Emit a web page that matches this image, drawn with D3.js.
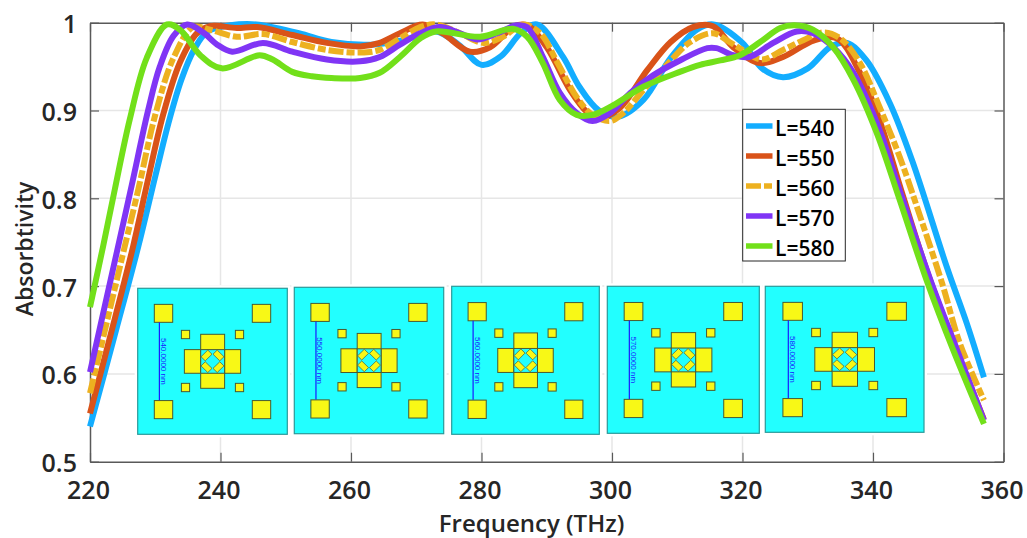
<!DOCTYPE html>
<html>
<head>
<meta charset="utf-8">
<script src="https://cdn.jsdelivr.net/npm/d3@7"></script>
<style>
  html, body { margin: 0; padding: 0; background: #fff; overflow: hidden; }
  text { font-family: "Open Sans", sans-serif; font-weight: 600; fill: #262626; }
  .legendText { fill: #000; }
  .scaleText { font-family: "Liberation Sans", sans-serif; font-weight: 400; fill: #1a1aff; }
</style>
</head>
<body>
<script>
//curve data: frequency (THz) and absorptivity for each cell length
var f540 = [220,224,227.4,230,232,234,236,238,241.5,245.5,252,257,263,268,273,276.5,280,283,286,288.5,292.5,295,298,301,304.8,309,313,315.5,320,323,326.2,330,333.4,336,339,342.6,346,351.3,354.4,357];
var a540 = [.54,.65,.745,.825,.885,.935,.97,.99,.997,.998,.988,.978,.975,.98,.99,.975,.952,.962,.988,.998,.961,.927,.90,.893,.912,.96,.992,.998,.977,.948,.938,.948,.972,.977,.957,.908,.843,.722,.657,.596];
var f550 = [220,223,226.6,228.7,231.2,233.8,236.4,238.4,242.5,245.6,251,256.3,261.4,264.4,267.5,271,274,278.2,281.3,285,287,290,293.6,296.2,298,301.2,305.4,309,312.4,315.5,318.6,322.7,326.2,331,334.5,338,341,344.5,348.5,352.8,357];
var a550 = [.555,.64,.745,.815,.895,.955,.988,.996,.994,.995,.986,.977,.973,.977,.988,.998,.988,.967,.972,.996,.997,.972,.923,.898,.891,.903,.946,.978,.995,.996,.972,.954,.961,.98,.982,.943,.889,.805,.712,.627,.548];
var f560 = [220,225,227.4,230,232.8,235.8,238.4,242.5,246.5,251,256.3,261.4,264.4,267.5,270.6,273,276.7,280.3,283.3,286.4,289,291.6,294.6,297,299.7,301.7,304.8,308.4,312,315.5,318,320,323,326.2,329.3,332.4,335,338,341,344.1,347.2,350.6,353.3,357];
var a560 = [.578,.735,.81,.895,.96,.995,.992,.984,.987,.978,.969,.966,.969,.982,.995,.998,.988,.977,.984,.998,.988,.955,.915,.895,.888,.897,.923,.952,.978,.988,.978,.969,.958,.969,.98,.989,.982,.954,.904,.847,.78,.703,.635,.57];
var f570 = [220,224,226.4,228.9,230.7,232.8,234.9,237.3,239.5,241.8,246.5,251,256.3,261.4,264.4,267.5,270.6,273.6,276.7,279.3,282.4,285.4,287,289.4,292,294.6,297,299.7,302.8,306.3,310.4,314.6,316,318.6,321,324.7,328.3,330.8,333.9,337,340.6,344.1,348.8,352.9,357];
var a570 = [.602,.735,.815,.90,.95,.985,.998,.989,.975,.967,.977,.967,.958,.956,.961,.975,.988,.995,.988,.981,.988,.997,.995,.961,.92,.897,.888,.897,.92,.94,.957,.971,.971,.963,.961,.977,.99,.988,.972,.943,.886,.809,.707,.627,.547];
var f580 = [220,222,223.8,226.1,228.7,231.8,233.8,236.9,240.2,246,248,251,254,257,261.4,264.4,267.5,270.6,273,279.8,284.8,287,289.4,292,294.6,297,300.2,304.8,310.4,313.5,316.6,319.6,322.7,325.8,328,330.8,333.9,337,340.6,344.1,348.2,352.3,357];
var a580 = [.676,.745,.81,.89,.96,.998,.992,.963,.948,.963,.958,.944,.939,.937,.937,.943,.961,.982,.99,.984,.993,.984,.954,.912,.895,.895,.906,.927,.944,.952,.957,.963,.978,.994,.997,.992,.972,.935,.874,.798,.707,.627,.543];

//legend names and the scale text printed in each inset
var lengths = ["L=540","L=550","L=560","L=570","L=580"];
var insetLabels = ["540.0000 nm","550.0000 nm","560.0000 nm","570.0000 nm","580.0000 nm"];
var xTicks = [220,240,260,280,300,320,340,360];
var yTicks = [0.5,0.6,0.7,0.8,0.9,1];

var freqs = [f540,f550,f560,f570,f580];
var absorb = [a540,a550,a560,a570,a580];
var colors = ["#13adff","#d95319","#edb120","#8035f5","#72e01a"];

var width = 1027, height = 538;

//page frame
var svg = d3.select("body")
    .append("svg")
    .attr("width", width)
    .attr("height", height)
    .style("display", "block");

//scales for the plot box
var x = d3.scaleLinear().domain([220,360]).range([90,1003.5]);
var y = d3.scaleLinear().domain([0.5,1]).range([461.7,22.7]);

//grid lines
svg.append("g").selectAll("line").data(xTicks.slice(1,-1)).enter().append("line")
    .attr("x1", x).attr("x2", x).attr("y1", y(0.5)).attr("y2", y(1))
    .attr("stroke", "#e6e6e6").attr("stroke-width", 1.5);
svg.append("g").selectAll("line").data(yTicks.slice(1,-1)).enter().append("line")
    .attr("x1", x(220)).attr("x2", x(360)).attr("y1", y).attr("y2", y)
    .attr("stroke", "#e6e6e6").attr("stroke-width", 1.5);

//the four sides with inward ticks
function styleAxis(g){
    g.selectAll("path").attr("stroke", "#595959").attr("stroke-width", 1.5);
    g.selectAll("line").attr("stroke", "#595959").attr("stroke-width", 1.2);
}
var bottom = svg.append("g").attr("transform", "translate(0," + y(0.5) + ")")
    .call(d3.axisBottom(x).tickValues(xTicks).tickSize(-9).tickSizeOuter(0).tickFormat(d3.format("d")));
var top_ = svg.append("g").attr("transform", "translate(0," + y(1) + ")")
    .call(d3.axisTop(x).tickValues(xTicks).tickSize(-9).tickSizeOuter(0).tickFormat(""));
var left = svg.append("g").attr("transform", "translate(" + x(220) + ",0)")
    .call(d3.axisLeft(y).tickValues(yTicks).tickSize(-9).tickSizeOuter(0).tickFormat(d3.format("~g")));
var right = svg.append("g").attr("transform", "translate(" + x(360) + ",0)")
    .call(d3.axisRight(y).tickValues(yTicks).tickSize(-9).tickSizeOuter(0).tickFormat(""));
[bottom,top_,left,right].forEach(styleAxis);

bottom.selectAll("text").attr("y", 0).attr("dy", 0)
    .attr("transform", "translate(-2,37)")
    .style("font-size", "25px").attr("text-anchor", "middle");
left.selectAll("text").attr("x", -13).attr("dy", "10px")
    .style("font-size", "25px").attr("text-anchor", "end");

//axis titles
svg.append("text")
    .attr("x", 531.5).attr("y", 532)
    .attr("text-anchor", "middle")
    .style("font-size", "24px")
    .text("Frequency (THz)");
svg.append("text")
    .attr("transform", "translate(33,249) rotate(-90)")
    .attr("text-anchor", "middle")
    .style("font-size", "23px")
    .text("Absorbtivity");

//pasted geometry pictures, each box is [left, right, top, bottom] in page pixels
var insetBoxes = [
    [137.7,287.3,288.3,434.3],
    [294.3,443.7,287.3,433.7],
    [451.7,599.3,286.3,434.3],
    [607.3,759.3,286.3,433.3],
    [765.3,924,286.3,432.3]
];

//parts of the unit cell in 0-1 coordinates
var padSquares = [[.111,.234,.11,.233],[.766,.889,.11,.233],[.111,.234,.769,.893],[.766,.889,.769,.893]];
var smallSquares = [[.292,.347,.288,.345],[.653,.708,.288,.345],[.292,.347,.651,.708],[.653,.708,.651,.708]];
var crossBars = [[.312,.688,.42,.582],[.421,.581,.315,.685]];
var ringSigns = [[-1,-1],[1,-1],[-1,1],[1,1]];

insetBoxes.forEach(function(box, i){
    var ux = d3.scaleLinear().domain([0,1]).range([box[0],box[1]]);
    var uy = d3.scaleLinear().domain([0,1]).range([box[2],box[3]]);
    var g = svg.append("g").attr("class", "inset");

    //white paper edge of the picture
    g.append("rect")
        .attr("x", box[0]-3).attr("y", box[2]-3)
        .attr("width", box[1]-box[0]+6).attr("height", box[3]-box[2]+6)
        .attr("fill", "#fff");
    g.append("rect")
        .attr("x", box[0]).attr("y", box[2])
        .attr("width", box[1]-box[0]).attr("height", box[3]-box[2])
        .attr("fill", "#22ffff").attr("stroke", "#2a9a9a").attr("stroke-width", 1.2);

    function addRects(list){
        g.selectAll(null).data(list).enter().append("rect")
            .attr("x", function(d){ return ux(d[0]); })
            .attr("y", function(d){ return uy(d[2]); })
            .attr("width", function(d){ return ux(d[1]) - ux(d[0]); })
            .attr("height", function(d){ return uy(d[3]) - uy(d[2]); })
            .attr("fill", "#f8f816").attr("stroke", "#4a5a30").attr("stroke-width", 1);
    }
    addRects(padSquares);
    addRects(smallSquares);
    addRects(crossBars);

    //cyan centre with the ring of four tilted pieces
    g.append("rect")
        .attr("x", ux(.421)).attr("y", uy(.42))
        .attr("width", ux(.581)-ux(.421)).attr("height", uy(.582)-uy(.42))
        .attr("fill", "#22ffff").attr("stroke", "#4a5a30").attr("stroke-width", 1);
    var r = Math.SQRT1_2;
    g.selectAll(null).data(ringSigns).enter().append("polygon")
        .attr("points", function(s){
            var cx = .5 + s[0]*.04, cy = .5 + s[1]*.04, a = .032*r, b = .02*r;
            var tx = s[0], ty = -s[1]; //along the ring
            var nx = s[0], ny = s[1];  //across the ring
            return [[1,1],[1,-1],[-1,-1],[-1,1]].map(function(p){
                var px = cx + p[0]*a*tx + p[1]*b*nx;
                var py = cy + p[0]*a*ty + p[1]*b*ny;
                return ux(px) + "," + uy(py);
            }).join(" ");
        })
        .attr("fill", "#f8f816").attr("stroke", "#4a5a30").attr("stroke-width", 0.7);

    //period marker
    g.append("line")
        .attr("x1", ux(.145)).attr("x2", ux(.145))
        .attr("y1", uy(.233)).attr("y2", uy(.767))
        .attr("stroke", "#1a1aff").attr("stroke-width", 1.2);
    g.append("text")
        .attr("class", "scaleText")
        .attr("transform", "translate(" + ux(.155) + "," + uy(.5) + ") rotate(90)")
        .attr("text-anchor", "middle")
        .style("font-size", "8px")
        .text(insetLabels[i]);
});

//spectra, drawn in legend order so the later ones sit on top
var line = d3.line()
    .x(function(d){ return x(d[0]); })
    .y(function(d){ return y(d[1]); })
    .curve(d3.curveCatmullRom.alpha(0.5));

var dashFor = function(i){ return i === 2 ? "15,3,8,3" : null; };

lengths.forEach(function(name, i){
    svg.append("path")
        .datum(d3.zip(freqs[i], absorb[i]))
        .attr("class", "curve")
        .attr("d", line)
        .attr("fill", "none")
        .attr("stroke", colors[i])
        .attr("stroke-width", 6)
        .attr("stroke-dasharray", dashFor(i));
});

//legend
var legend = svg.append("g").attr("class", "legend");
legend.append("rect")
    .attr("x", 742.7).attr("y", 109.3)
    .attr("width", 102.6).attr("height", 151.7)
    .attr("fill", "#fff").attr("stroke", "#262626").attr("stroke-width", 1);
var rowY = d3.scalePoint().domain(lengths).range([126,246]);
lengths.forEach(function(name, i){
    legend.append("line")
        .attr("x1", 746).attr("x2", 772.5)
        .attr("y1", rowY(name)).attr("y2", rowY(name))
        .attr("stroke", colors[i]).attr("stroke-width", 5.5)
        .attr("stroke-dasharray", dashFor(i));
    legend.append("text")
        .attr("class", "legendText")
        .attr("x", 775).attr("y", rowY(name) + 10)
        .style("font-size", "21px")
        .text(name);
});
</script>
</body>
</html>
